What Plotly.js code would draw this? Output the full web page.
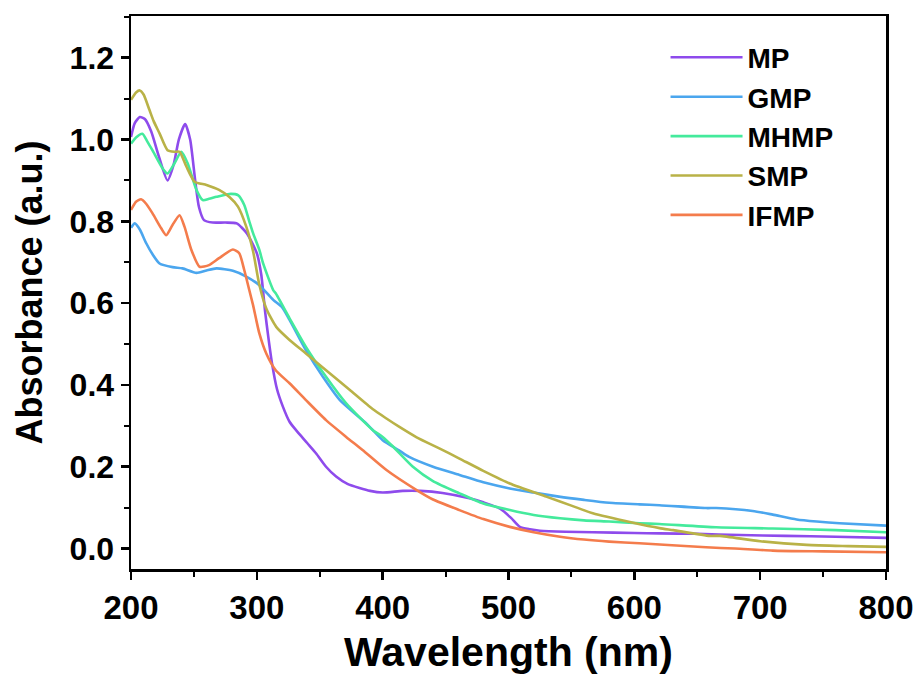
<!DOCTYPE html>
<html>
<head>
<meta charset="utf-8">
<script src="https://cdn.plot.ly/plotly-3.0.1.min.js"></script>
<style>html,body{margin:0;padding:0;background:#fff;}#chart{width:919px;height:679px;}</style>
</head>
<body>
<div id="chart"></div>
<script>
// ---- Data ----
const seriesNames = ["MP", "GMP", "MHMP", "SMP", "IFMP"];

const mpWavelength = [200,203,207,211,216,222,229,234,238,243,247,251,254,258,265,275,284,292,300,303.5,306.7,309,312,316,320.7,326,331,340,347,355,363,372,381.6,390,400,416,430,447.6,469,480,493,502,509,517,525,545,567,600,620,650,684,720,760,800];
const mpAbsorbance = [1.006,1.04,1.055,1.05,1.02,0.96,0.90,0.94,1.00,1.038,1.00,0.90,0.835,0.803,0.797,0.797,0.795,0.771,0.722,0.67,0.576,0.52,0.454,0.39,0.347,0.31,0.29,0.258,0.233,0.20,0.176,0.158,0.148,0.141,0.137,0.141,0.141,0.136,0.123,0.113,0.098,0.075,0.053,0.047,0.0435,0.041,0.040,0.038,0.037,0.036,0.033,0.031,0.029,0.026];

const gmpWavelength = [200,203,207,212,217,222.7,233,241,252,260,268,281,291.6,302,313,320,326,339,352.5,366,387,400,413,421,440,461,480,501,520,540,560,580,604,620,657,665,694,710,729,745,763,800];
const gmpAbsorbance = [0.784,0.795,0.78,0.747,0.72,0.697,0.688,0.685,0.674,0.68,0.685,0.679,0.665,0.644,0.608,0.59,0.559,0.485,0.42,0.363,0.306,0.265,0.240,0.224,0.20,0.18,0.162,0.147,0.137,0.127,0.119,0.112,0.108,0.106,0.099,0.099,0.092,0.083,0.071,0.066,0.062,0.056];

const mhmpWavelength = [200,204,209,213,217,225,229,234.6,240,245,252,257,262,268,278,285,290,294,297,302,305,313,315,326,339,355,371,392,400,408,424,440,461,480,501,520,541,560,580,604,620,665,710,760,800];
const mhmpAbsorbance = [0.99,1.005,1.014,0.995,0.974,0.93,0.917,0.942,0.97,0.942,0.877,0.852,0.855,0.86,0.867,0.864,0.84,0.80,0.771,0.73,0.697,0.632,0.624,0.563,0.493,0.42,0.355,0.29,0.273,0.25,0.20,0.165,0.135,0.11,0.094,0.082,0.074,0.069,0.066,0.062,0.060,0.052,0.049,0.045,0.040];

const smpWavelength = [200,204,207,210,214.7,218,222.7,229,234.6,238.6,244,250.5,260,270,278,285,291.6,297,302,307.5,315.4,326,339,355,373.7,392,403,413,427,445,461,480,501,530,550,567,599,620,631,660,668,700,737,770,800];
const smpAbsorbance = [1.097,1.115,1.12,1.11,1.072,1.045,1.015,0.974,0.97,0.97,0.934,0.897,0.889,0.877,0.86,0.836,0.787,0.727,0.645,0.587,0.542,0.51,0.477,0.436,0.388,0.341,0.318,0.298,0.272,0.245,0.22,0.19,0.159,0.127,0.105,0.086,0.063,0.05,0.045,0.031,0.031,0.018,0.009,0.006,0.004];

const ifmpWavelength = [200,204,208,212,217,224,228,233,238.6,242.5,248,254.5,262,270,281,286,290,294,297,302,307.5,315,326,339,355,371,384,403,427,440,461,480,501,520,541,560,580,604,630,657,680,710,750,800];
const ifmpAbsorbance = [0.828,0.848,0.854,0.843,0.82,0.783,0.766,0.791,0.815,0.787,0.73,0.689,0.693,0.71,0.731,0.722,0.681,0.632,0.595,0.526,0.477,0.436,0.404,0.363,0.314,0.273,0.241,0.192,0.143,0.12,0.094,0.072,0.053,0.04,0.029,0.022,0.017,0.013,0.008,0.003,0.0,-0.005,-0.007,-0.009];

const xTickLabels = ["200","300","400","500","600","700","800"];
const yTickLabels = ["0.0","0.2","0.4","0.6","0.8","1.0","1.2"];

// ---- Styles ----
const colors = ["#8e4bec", "#4ba6ee", "#44ea9c", "#b9b247", "#f47c4c"];
const xs = [mpWavelength, gmpWavelength, mhmpWavelength, smpWavelength, ifmpWavelength];
const ys = [mpAbsorbance, gmpAbsorbance, mhmpAbsorbance, smpAbsorbance, ifmpAbsorbance];

const traces = seriesNames.map((name, i) => ({
  type: "scatter",
  mode: "lines",
  name: name,
  x: xs[i],
  y: ys[i],
  line: {color: colors[i], width: 2.6, shape: "spline", smoothing: 0.6}
}));

const fam = "Liberation Sans, Arial, sans-serif";

const layout = {
  width: 919,
  height: 679,
  paper_bgcolor: "#fff",
  plot_bgcolor: "#fff",
  margin: {l: 131, r: 33, t: 16, b: 110},
  showlegend: true,
  legend: {
    x: 0.708, y: 0.97, xanchor: "left", yanchor: "top",
    bgcolor: "rgba(0,0,0,0)", borderwidth: 0,
    font: {family: fam, size: 28, color: "#000", weight: "bold"},
    itemwidth: 72, tracegroupgap: 0
  },
  xaxis: {
    range: [200, 800],
    tickmode: "array",
    tickvals: xTickLabels.map(Number),
    ticktext: xTickLabels,
    ticks: "outside", ticklen: 8, tickwidth: 2.5, tickcolor: "#000",
    minor: {dtick: 50, ticks: "outside", ticklen: 5, tickwidth: 2, tickcolor: "#000"},
    showline: true, linewidth: 2.5, linecolor: "#000", mirror: true,
    showgrid: false, zeroline: false,
    tickfont: {family: fam, size: 33, color: "#000", weight: "bold"},
    title: {text: "Wavelength (nm)", font: {family: fam, size: 41, color: "#000", weight: "bold"}, standoff: 12}
  },
  yaxis: {
    range: [-0.05, 1.302],
    tickmode: "array",
    tickvals: yTickLabels.map(Number),
    ticktext: yTickLabels,
    ticks: "outside", ticklen: 8, tickwidth: 2.5, tickcolor: "#000",
    minor: {dtick: 0.1, ticks: "outside", ticklen: 5, tickwidth: 2, tickcolor: "#000"},
    showline: true, linewidth: 2.5, linecolor: "#000", mirror: true,
    showgrid: false, zeroline: false,
    tickfont: {family: fam, size: 32, color: "#000", weight: "bold"},
    title: {text: "Absorbance (a.u.)", font: {family: fam, size: 36, color: "#000", weight: "bold"}, standoff: 16}
  }
};

Plotly.newPlot("chart", traces, layout, {displayModeBar: false, staticPlot: true});
</script>
</body>
</html>
